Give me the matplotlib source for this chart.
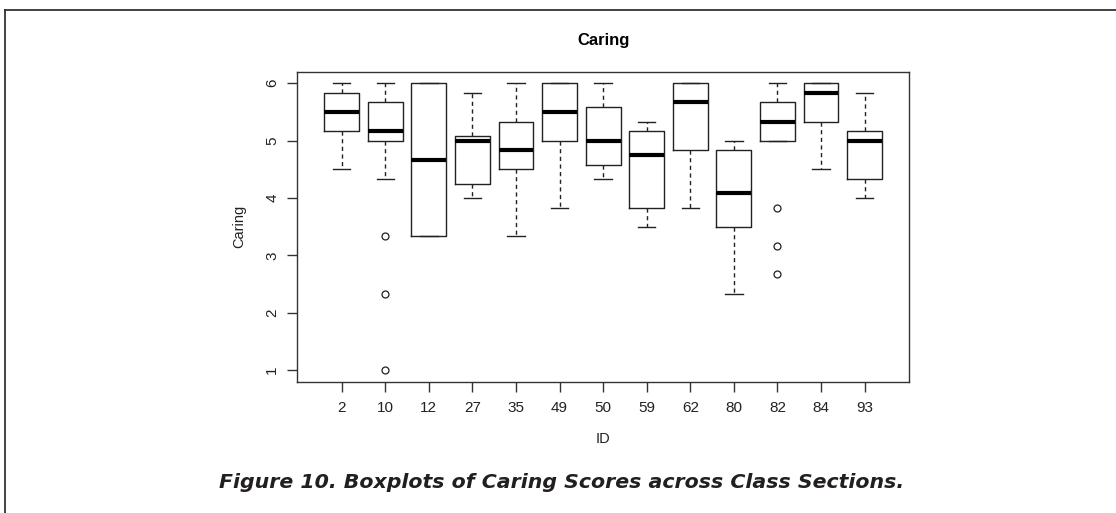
import matplotlib
matplotlib.use("Agg")
import matplotlib.pyplot as plt
from matplotlib.lines import Line2D

ids = ["2", "10", "12", "27", "35", "49", "50", "59", "62", "80", "82", "84", "93"]
whis_lo = [4.5, 4.33, 3.33, 4.0, 3.33, 3.83, 4.33, 3.5, 3.83, 2.33, 5.0, 4.5, 4.0]
q1 = [5.17, 5.0, 3.33, 4.25, 4.5, 5.0, 4.58, 3.83, 4.83, 3.5, 5.0, 5.33, 4.33]
median = [5.5, 5.17, 4.67, 5.0, 4.83, 5.5, 5.0, 4.75, 5.67, 4.08, 5.33, 5.83, 5.0]
q3 = [5.83, 5.67, 6.0, 5.08, 5.33, 6.0, 5.58, 5.17, 6.0, 4.83, 5.67, 6.0, 5.17]
whis_hi = [6.0, 6.0, 6.0, 5.83, 6.0, 6.0, 6.0, 5.33, 6.0, 5.0, 6.0, 6.0, 5.83]
outliers = [[], [3.33, 2.33, 1.0], [], [], [], [], [], [], [], [], [3.83, 3.17, 2.67], [], []]
y_ticks = [1, 2, 3, 4, 5, 6]

plt.rcParams['font.family'] = ['Liberation Sans', 'DejaVu Sans']

fig = plt.figure(figsize=(11.16, 5.13), dpi=100)
ax = fig.add_axes([0.2664, 0.2559, 0.8145 - 0.2664, 0.8602 - 0.2559])

stats = []
for i, name in enumerate(ids):
    stats.append(dict(label=name, whislo=whis_lo[i], q1=q1[i], med=median[i],
                      q3=q3[i], whishi=whis_hi[i], fliers=outliers[i]))

positions = list(range(1, len(ids) + 1))
ax.bxp(stats, positions=positions, widths=0.8, capwidths=0.4, showfliers=True,
       boxprops=dict(color='#222222', linewidth=1.0),
       whiskerprops=dict(color='#222222', linewidth=1.0, linestyle=(0, (3, 2.5))),
       capprops=dict(color='#222222', linewidth=1.0),
       medianprops=dict(color='black', linewidth=3.0, solid_capstyle='butt'),
       flierprops=dict(marker='o', markerfacecolor='none', markeredgecolor='#222222',
                       markersize=5, markeredgewidth=0.9, linestyle='none'))

n = len(ids)
ax.set_xlim(0.5 - 0.04 * n, n + 0.5 + 0.04 * n)
ax.set_ylim(1 - 0.04 * 5, 6 + 0.04 * 5)
ax.set_yticks(y_ticks)
ax.set_yticklabels([str(v) for v in y_ticks], rotation=90, va='center', fontsize=11)
ax.set_xticks(positions)
ax.set_xticklabels(ids, fontsize=11)
ax.tick_params(axis='both', direction='out', length=7, width=1.0, color='#333333',
               labelcolor='#222222')
ax.tick_params(axis='x', pad=7)
ax.tick_params(axis='y', pad=6)
for s in ax.spines.values():
    s.set_color('#333333')
    s.set_linewidth(1.0)

ax.set_xlabel("ID", fontsize=10.5, color='#222222', labelpad=12)
ax.set_ylabel("Caring", fontsize=10.5, color='#222222', labelpad=14)
ax.set_title("Caring", fontsize=12, fontweight='bold', pad=19)

# outer frame lines (top and left)
fig.add_artist(Line2D([0.0045, 1.0], [1 - 9.5 / 513, 1 - 9.5 / 513], transform=fig.transFigure,
                      color='#333333', linewidth=1.3))
fig.add_artist(Line2D([0.0045, 0.0045], [0.0, 1 - 9.5 / 513], transform=fig.transFigure,
                      color='#333333', linewidth=1.3))

fig.text(562 / 1116, 1 - 482 / 513, "Figure 10. Boxplots of Caring Scores across Class Sections.",
         ha='center', va='center', fontsize=14.75, fontweight='bold', style='italic',
         family=['DejaVu Sans'], color='#231f20')

fig.savefig("out.png", dpi=100)
